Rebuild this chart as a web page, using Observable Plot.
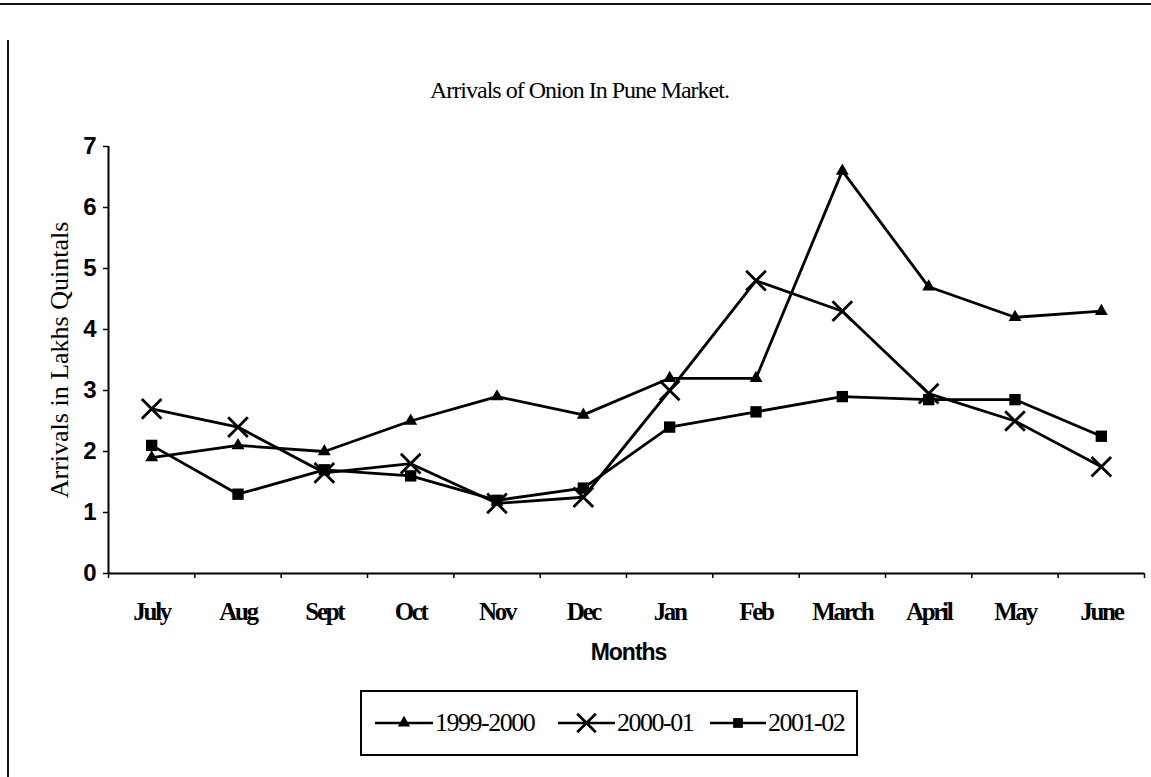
<!DOCTYPE html>
<html>
<head>
<meta charset="utf-8">
<script src="https://cdn.jsdelivr.net/npm/d3@7"></script>
<script src="https://cdn.jsdelivr.net/npm/@observablehq/plot@0.6"></script>
<style>
  html, body { margin: 0; padding: 0; background: #fff; }
  #page { position: relative; width: 1151px; height: 777px; overflow: hidden; background: #fff; }
  #topline { position: absolute; left: 0; top: 3px; width: 1151px; height: 2px; background: #111; }
  #leftline { position: absolute; left: 7px; top: 40px; width: 2px; height: 737px; background: #111; }
  #title { position: absolute; left: 430px; top: 78px; line-height: 24px; font-family: "Liberation Serif", "Times New Roman", serif; font-size: 24px; letter-spacing: -1px; color: #000; white-space: nowrap; }
  #chart { position: absolute; left: 0; top: 120px; }
  #legend { position: absolute; left: 360px; top: 690px; width: 494px; height: 62px; border: 2px solid #000; box-sizing: content-box; font-family: "Liberation Serif", "Times New Roman", serif; font-size: 26px; letter-spacing: -1.5px; color: #000; }
  .item { position: absolute; top: 0; height: 62px; display: flex; align-items: center; white-space: nowrap; }
  .item svg { margin-right: 2px; }
</style>
</head>
<body>
<div id="page">
  <div id="topline"></div>
  <div id="leftline"></div>
  <div id="title"></div>
  <div id="chart"></div>
  <div id="legend"></div>
</div>
<script>
// ---- data ----
const months = ["July", "Aug", "Sept", "Oct", "Nov", "Dec", "Jan", "Feb", "March", "April", "May", "June"];
const seriesNames = ["1999-2000", "2000-01", "2001-02"];
const values1999 = [1.9, 2.1, 2.0, 2.5, 2.9, 2.6, 3.2, 3.2, 6.6, 4.7, 4.2, 4.3];
const values2000 = [2.7, 2.4, 1.65, 1.8, 1.15, 1.25, 3.0, 4.8, 4.3, 2.95, 2.5, 1.75];
const values2001 = [2.1, 1.3, 1.7, 1.6, 1.2, 1.4, 2.4, 2.65, 2.9, 2.85, 2.85, 2.25];
const yTicks = [0, 1, 2, 3, 4, 5, 6, 7];
const titleText = "Arrivals of Onion In Pune Market.";
const xTitle = "Months";
const yTitle = "Arrivals in Lakhs Quintals";

// ---- build table ----
const seriesValues = [values1999, values2000, values2001];
const rows = [];
seriesValues.forEach((vals, s) => {
  vals.forEach((v, i) => rows.push({series: seriesNames[s], idx: i, month: months[i], value: v}));
});
const symbolOf = {"1999-2000": "triangle", "2000-01": "times", "2001-02": "square"};
const boundaries = d3.range(-0.5, months.length, 1);

const W = 1151, H = 560;
const mL = 108, mR = 7, mT = 26, mB = H - 453;

const chart = Plot.plot({
  width: W,
  height: H,
  marginLeft: mL,
  marginRight: mR,
  marginTop: mT,
  marginBottom: mB,
  style: {background: "transparent", color: "#000", overflow: "visible"},
  x: {type: "linear", domain: [-0.5, months.length - 0.5]},
  y: {domain: [0, 7]},
  marks: [
    Plot.axisY(yTicks, {
      tickSize: 5, tickPadding: 7, tickFormat: d => String(d), label: null,
      fontSize: 24, fontWeight: "bold", fontFamily: "Liberation Sans, Arial, sans-serif",
      strokeWidth: 1.5
    }),
    Plot.axisX(boundaries, {tickSize: 5, tickFormat: () => "", label: null, strokeWidth: 1.5}),
    Plot.axisX(d3.range(months.length), {
      tickSize: 0, tickPadding: 29, tickFormat: i => months[i], label: null,
      fontSize: 25, fontWeight: "bold", fontFamily: "Liberation Serif, serif"
    }),
    Plot.ruleX([-0.5], {stroke: "#000", strokeWidth: 2}),
    Plot.ruleY([0], {stroke: "#000", strokeWidth: 2}),
    Plot.line(rows, {x: "idx", y: "value", z: "series", stroke: "#000", strokeWidth: 2.8}),
    Plot.dot(rows.filter(d => d.series === seriesNames[0]), {x: "idx", y: "value", symbol: "triangle", r: 4.8, fill: "#000"}),
    Plot.dot(rows.filter(d => d.series === seriesNames[1]), {x: "idx", y: "value", symbol: "times", r: 9, stroke: "#000", strokeWidth: 2.8}),
    Plot.dot(rows.filter(d => d.series === seriesNames[2]), {x: "idx", y: "value", symbol: "square", r: 6.4, fill: "#000"}),
    Plot.text([xTitle], {frameAnchor: "bottom", dy: 79, dx: 2, text: d => d, textAnchor: "middle", lineAnchor: "middle",
      fontSize: 23, fontWeight: "bold", fontFamily: "Liberation Sans, Arial, sans-serif", fill: "#000"}),
    Plot.text([yTitle], {frameAnchor: "left", dx: -49, rotate: -90, text: d => d, textAnchor: "middle", lineAnchor: "middle",
      fontSize: 26, fontFamily: "Liberation Serif, serif", fill: "#000"})
  ]
});
chart.querySelectorAll('g[aria-label="x-axis tick label"] text').forEach(t => t.setAttribute("letter-spacing", "-2.3"));
chart.querySelectorAll("text").forEach(t => {
  if (t.textContent === xTitle) t.setAttribute("letter-spacing", "-1");
});
document.getElementById("chart").appendChild(chart);
document.getElementById("title").textContent = titleText;

// ---- legend ----
const legend = document.getElementById("legend");
const legendPos = [
  {left: 13, lineW: 58},
  {left: 196, lineW: 57},
  {left: 348, lineW: 56}
];
seriesNames.forEach((name, k) => {
  const item = document.createElement("div");
  item.className = "item";
  item.style.left = legendPos[k].left + "px";
  const lw = legendPos[k].lineW;
  const svg = d3.create("svg").attr("width", lw).attr("height", 26);
  svg.append("line").attr("x1", 0).attr("x2", lw).attr("y1", 13).attr("y2", 13)
    .attr("stroke", "#000").attr("stroke-width", 2.6);
  const sym = symbolOf[name];
  const g = svg.append("path").attr("transform", `translate(${lw / 2},13)`);
  if (sym === "triangle") {
    g.attr("d", d3.symbol(d3.symbolTriangle, Math.PI * 4.6 * 4.6)()).attr("fill", "#000");
  } else if (sym === "times") {
    g.attr("d", d3.symbol(d3.symbolTimes, Math.PI * 8.5 * 8.5)()).attr("fill", "none")
      .attr("stroke", "#000").attr("stroke-width", 2.6);
  } else {
    g.attr("d", d3.symbol(d3.symbolSquare, Math.PI * 5.5 * 5.5)()).attr("fill", "#000");
  }
  item.appendChild(svg.node());
  const span = document.createElement("span");
  span.textContent = name;
  item.appendChild(span);
  legend.appendChild(item);
});
</script>
</body>
</html>
